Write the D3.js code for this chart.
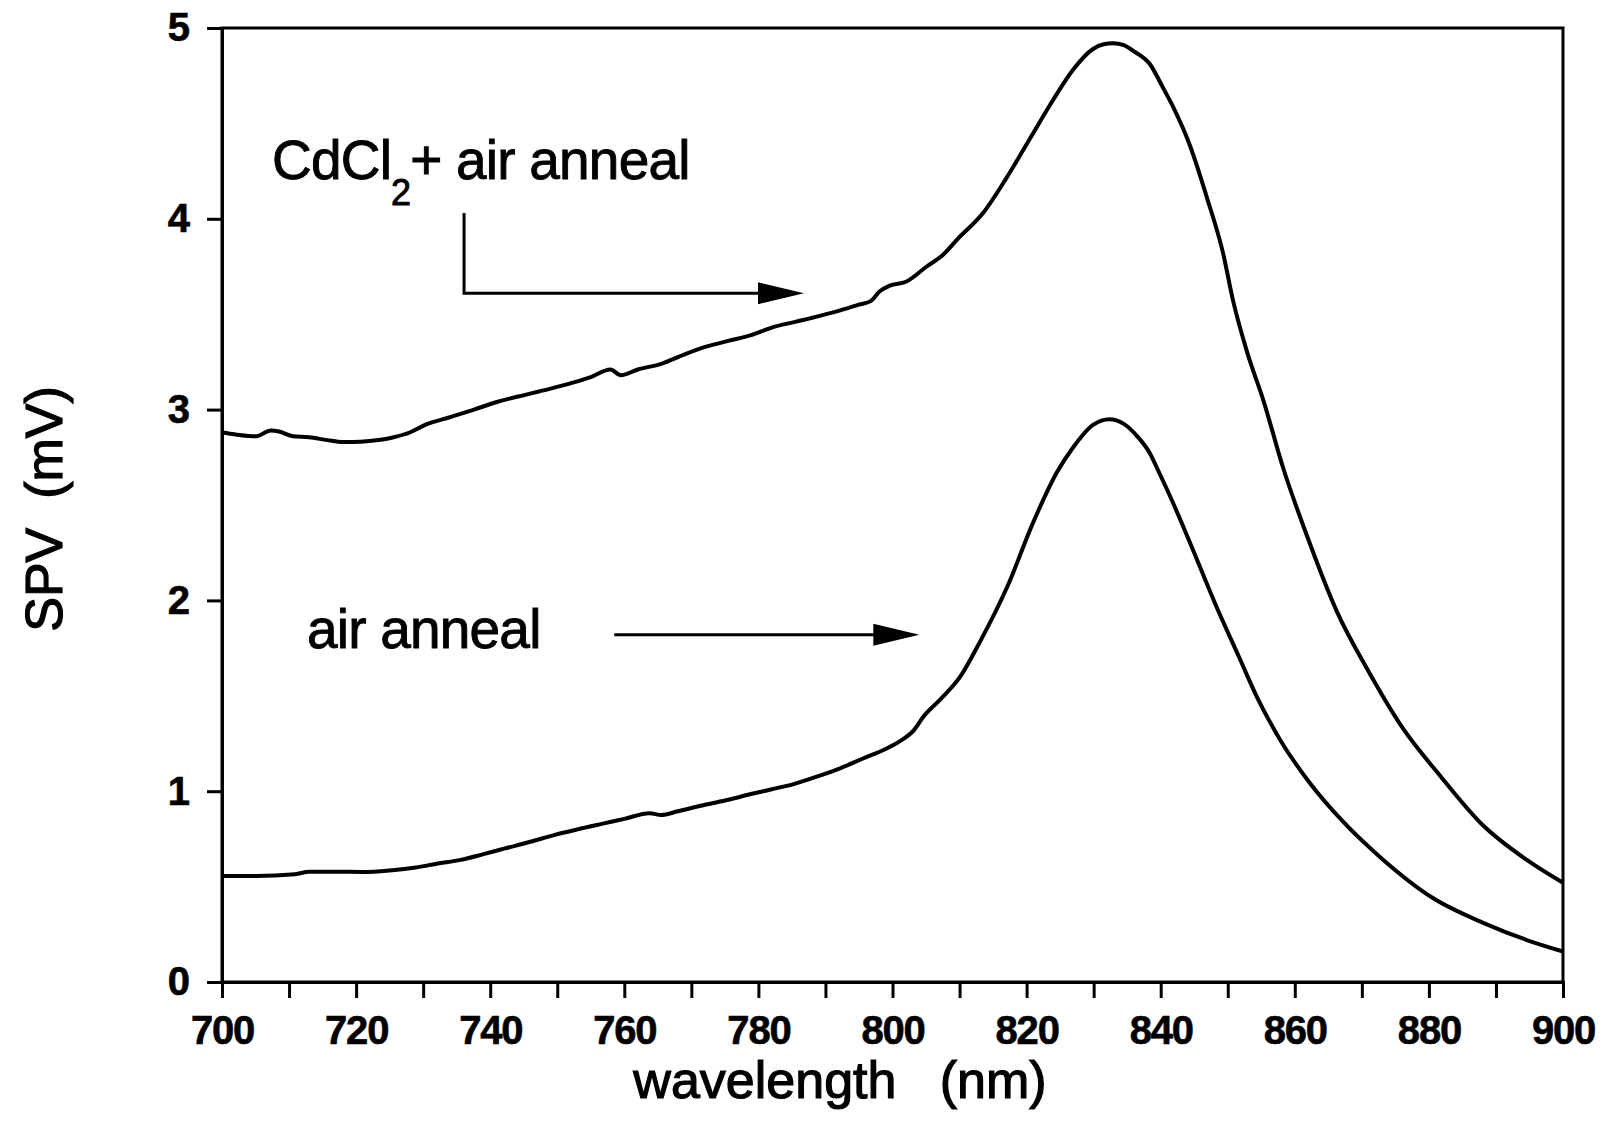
<!DOCTYPE html>
<html>
<head>
<meta charset="utf-8">
<script src="https://cdn.jsdelivr.net/npm/d3@7"></script>
<style>
  html, body { margin: 0; padding: 0; background: #fff; }
  svg { display: block; }
  text { font-family: "Liberation Sans", Arial, Helvetica, sans-serif; fill: #000; }
</style>
</head>
<body>
<svg id="chart" width="1604" height="1132"></svg>
<script>
// SPV spectra (mV) versus wavelength (nm)
const cdcl2Wavelength = [700, 702, 705, 707.3, 708.5, 710.6, 713, 715.7, 718, 719.5, 722, 725.6, 728, 730.3,
  734, 737.6, 741, 745.5, 749, 752.2, 755, 757.9, 759.5, 762, 765.5, 769, 772.2, 775.5, 778.9, 782, 785.5,
  789, 792.2, 795, 796.8, 798.1, 799.6, 802, 805.1, 807.5, 809.6, 813.5, 817.1, 821.0, 823.9, 826.9, 829.9,
  831.5, 832.9, 834.5, 835.9, 838.4, 840.3, 841.8, 844.4, 846.9, 849.3, 850.8, 852.9, 855.3, 858.3, 861.8,
  866.3, 870.8, 876.1, 881.7, 888.1, 894.6, 900];
const cdcl2Spv = [2.88, 2.87, 2.86, 2.89, 2.885, 2.86, 2.855, 2.84, 2.83, 2.83, 2.835, 2.855, 2.88, 2.92,
  2.96, 3.00, 3.04, 3.08, 3.11, 3.14, 3.17, 3.21, 3.18, 3.21, 3.24, 3.29, 3.33, 3.36, 3.39, 3.43, 3.46,
  3.49, 3.52, 3.55, 3.57, 3.62, 3.65, 3.67, 3.75, 3.81, 3.89, 4.03, 4.22, 4.45, 4.62, 4.78, 4.89,
  4.915, 4.92, 4.91, 4.88, 4.81, 4.69, 4.59, 4.38, 4.11, 3.82, 3.57, 3.30, 3.05, 2.69, 2.34,
  1.94, 1.64, 1.33, 1.08, 0.82, 0.64, 0.52];

const airWavelength = [700, 705, 710.9, 713, 717, 720.9, 725, 728.9, 732, 735.6, 739, 742.2, 746, 749.5,
  753, 756.8, 760, 763.8, 765.5, 768, 772.2, 775.5, 778.9, 782, 785.5, 789, 792.2, 795.5, 798.9, 801,
  803.2, 804.6, 807.1, 810.1, 813.0, 817.1, 821.0, 824.5, 826.9, 829.9, 832.4, 834.5, 836.5, 838.4,
  839.5, 841.6, 844.4, 848.4, 851.6, 854.4, 857.8, 862.3, 867.2, 873.2, 880.6, 888.1, 894.6, 900];
const airSpv = [0.556, 0.556, 0.565, 0.578, 0.578, 0.577, 0.585, 0.60, 0.62, 0.64, 0.67, 0.70, 0.735, 0.77,
  0.80, 0.83, 0.855, 0.885, 0.875, 0.895, 0.93, 0.955, 0.985, 1.01, 1.04, 1.08, 1.12, 1.17, 1.22, 1.26,
  1.32, 1.39, 1.48, 1.60, 1.78, 2.07, 2.41, 2.67, 2.80, 2.92, 2.95, 2.925, 2.86, 2.77,
  2.69, 2.53, 2.30, 1.96, 1.71, 1.49, 1.27, 1.04, 0.84, 0.64, 0.44, 0.31, 0.22, 0.16];

const xTickLabels = [700, 720, 740, 760, 780, 800, 820, 840, 860, 880, 900];
const xMinorTicks = d3.range(700, 901, 10);
const yTickLabels = [0, 1, 2, 3, 4, 5];

// Annotation arrows, in data units [wavelength, SPV]
const cdcl2Arrow = [[736.1, 4.03], [736.1, 3.61], [786.8, 3.61]];
const airArrow = [[758.5, 1.82], [804.0, 1.82]];

const W = 1604, H = 1132;
const margin = { top: 28, right: 41, bottom: 150, left: 222 };
const svg = d3.select("#chart");

const x = d3.scaleLinear().domain([700, 900]).range([margin.left, W - margin.right]);
const y = d3.scaleLinear().domain([0, 5]).range([H - margin.bottom, margin.top]);

// Frame
svg.append("rect")
  .attr("x", x(700)).attr("y", y(5))
  .attr("width", x(900) - x(700)).attr("height", y(0) - y(5))
  .attr("fill", "none").attr("stroke", "#000").attr("stroke-width", 3);

// Bottom axis: ticks every 10 nm, labels every 20 nm
const xAxis = svg.append("g")
  .attr("transform", `translate(0,${y(0)})`)
  .call(d3.axisBottom(x).tickValues(xMinorTicks).tickSize(16).tickPadding(18)
    .tickFormat(d => xTickLabels.includes(d) ? d : ""));
xAxis.select(".domain").attr("stroke-width", 3);
xAxis.selectAll(".tick line").attr("stroke-width", 3);
xAxis.selectAll(".tick text")
  .attr("font-size", 40).attr("font-weight", "bold")
  .attr("font-family", "Liberation Sans, Arial, sans-serif")
  .attr("letter-spacing", -1.2)
  .attr("stroke", "#000").attr("stroke-width", 0.6);

// Left axis
const yAxis = svg.append("g")
  .attr("transform", `translate(${x(700)},0)`)
  .call(d3.axisLeft(y).tickValues(yTickLabels).tickSize(15).tickPadding(17).tickFormat(d3.format("d")));
yAxis.select(".domain").attr("stroke-width", 3);
yAxis.selectAll(".tick line").attr("stroke-width", 3);
yAxis.selectAll(".tick text")
  .attr("font-size", 40).attr("font-weight", "bold")
  .attr("font-family", "Liberation Sans, Arial, sans-serif")
  .attr("stroke", "#000").attr("stroke-width", 0.6);

// Curves
const line = d3.line()
  .x(d => x(d[0])).y(d => y(d[1]))
  .curve(d3.curveMonotoneX);

svg.append("path")
  .datum(d3.zip(cdcl2Wavelength, cdcl2Spv))
  .attr("d", line)
  .attr("fill", "none").attr("stroke", "#000").attr("stroke-width", 4)
  .attr("stroke-linejoin", "round");

svg.append("path")
  .datum(d3.zip(airWavelength, airSpv))
  .attr("d", line)
  .attr("fill", "none").attr("stroke", "#000").attr("stroke-width", 4)
  .attr("stroke-linejoin", "round");

// Arrows with filled heads
function drawArrow(points) {
  const px = points.map(p => [x(p[0]), y(p[1])]);
  const tip = px[px.length - 1];
  const headLen = 46, headHalf = 11;
  const shaft = px.slice(0, -1).concat([[tip[0] - headLen + 4, tip[1]]]);
  svg.append("path")
    .attr("d", d3.line()(shaft))
    .attr("fill", "none").attr("stroke", "#000").attr("stroke-width", 3);
  svg.append("path")
    .attr("d", `M${tip[0]},${tip[1]} L${tip[0] - headLen},${tip[1] - headHalf} L${tip[0] - headLen},${tip[1] + headHalf} Z`)
    .attr("fill", "#000");
}
drawArrow(cdcl2Arrow);
drawArrow(airArrow);

// Series labels
const lbl1 = svg.append("text")
  .attr("x", 272).attr("y", 179)
  .attr("font-size", 55).attr("letter-spacing", -0.8)
  .attr("stroke", "#000").attr("stroke-width", 0.9);
lbl1.append("tspan").text("CdCl");
lbl1.append("tspan").attr("font-size", 36).attr("dy", 26).text("2");
lbl1.append("tspan").attr("dy", -26).text("+ air anneal");

svg.append("text")
  .attr("x", 307).attr("y", 648)
  .attr("font-size", 55).attr("letter-spacing", -0.8)
  .attr("stroke", "#000").attr("stroke-width", 0.9)
  .text("air anneal");

// Axis titles
svg.append("text")
  .attr("x", 840).attr("y", 1098)
  .attr("text-anchor", "middle")
  .attr("font-size", 52)
  .attr("stroke", "#000").attr("stroke-width", 1.2)
  .style("white-space", "pre")
  .text("wavelength   (nm)");

svg.append("text")
  .attr("transform", `translate(62,509) rotate(-90)`)
  .attr("text-anchor", "middle")
  .attr("font-size", 52)
  .attr("stroke", "#000").attr("stroke-width", 1.2)
  .style("white-space", "pre")
  .text("SPV  (mV)");
</script>
</body>
</html>
